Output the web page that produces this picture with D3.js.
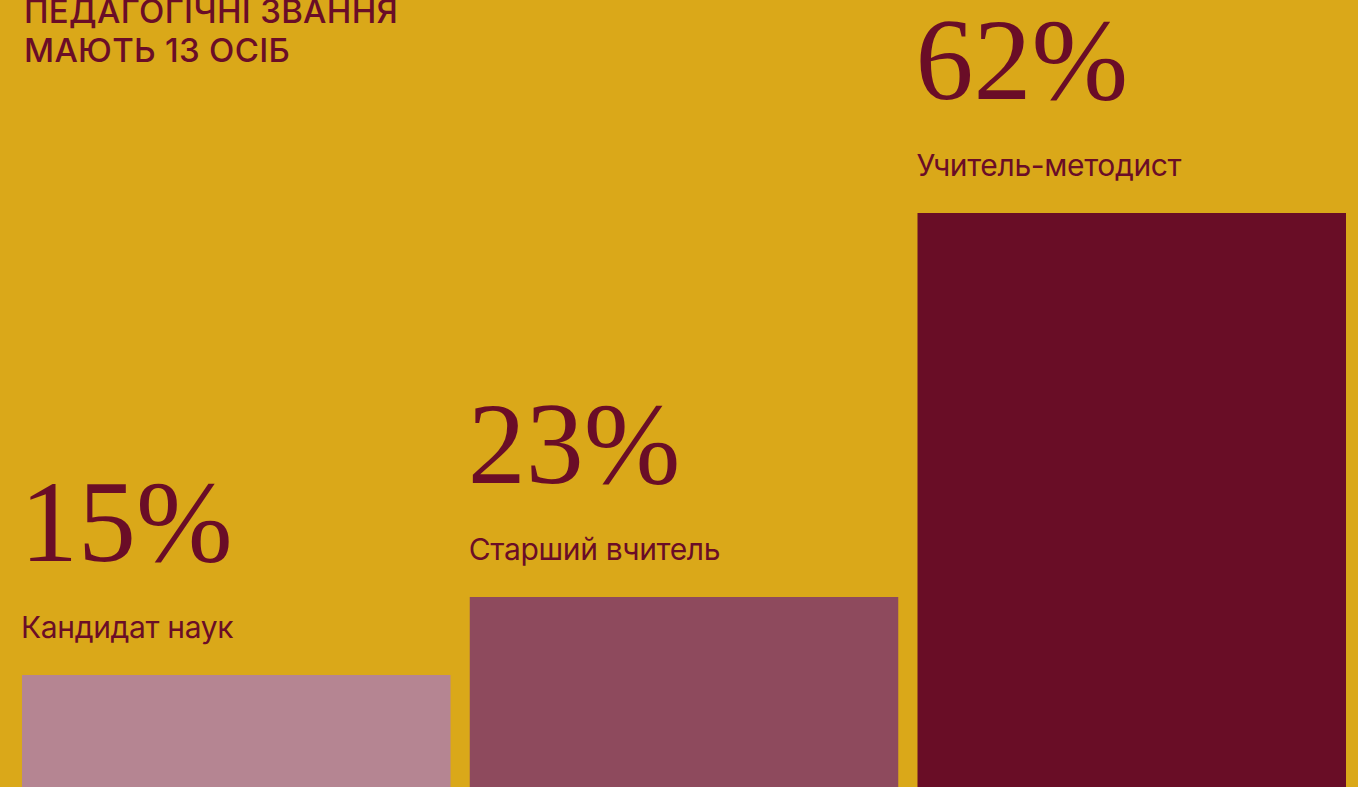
<!DOCTYPE html>
<html><head><meta charset="utf-8">
<script src="https://cdn.jsdelivr.net/npm/d3@7"></script>
<style>
html,body{margin:0;padding:0;background:#DAA819;overflow:hidden;}
svg{display:block;}
</style></head>
<body>
<svg id="chart" width="1358" height="787"></svg>
<script>
const categories = ["Кандидат наук", "Старший вчитель", "Учитель-методист"];
const values = [15, 23, 62];
const valueLabels = ["15%", "23%", "62%"];
const barColors = ["#B58592", "#8E4A5D", "#690D26"];
const titleLines = ["ПЕДАГОГІЧНІ ЗВАННЯ", "МАЮТЬ 13 ОСІБ"];

const W = 1358, H = 787;
const textColor = "#6A0D27";
const svg = d3.select("#chart");

svg.append("rect").attr("width", W).attr("height", H).attr("fill", "#DAA819");

const x = d3.scaleBand().domain(categories).range([22, 1346]).paddingInner(0.043);
const y = d3.scaleLinear().domain([0, 62]).range([823, 213]);

const g = svg.append("g");
const groups = g.selectAll("g.bar").data(categories).join("g").attr("class", "bar");

groups.append("rect")
  .attr("x", d => x(d))
  .attr("y", (d, i) => Math.round(y(values[i])))
  .attr("width", x.bandwidth())
  .attr("height", (d, i) => y(0) - y(values[i]) + 50)
  .attr("fill", (d, i) => barColors[i]);

groups.append("text")
  .attr("x", d => x(d) - 1)
  .attr("y", (d, i) => Math.round(y(values[i])) - 37)
  .attr("font-family", "Inter, 'Noto Sans', sans-serif")
  .attr("font-size", 30)
  .attr("letter-spacing", -0.35)
  .attr("fill", textColor)
  .text(d => d);

groups.append("text")
  .attr("x", d => x(d) - 2)
  .attr("y", (d, i) => Math.round(y(values[i])) - 114)
  .attr("font-family", "'Liberation Serif', serif")
  .attr("font-size", 116)
  .attr("fill", textColor)
  .text((d, i) => valueLabels[i]);

svg.append("g").selectAll("text").data(titleLines).join("text")
  .attr("x", 24)
  .attr("y", (d, i) => 23 + i * 38.5)
  .attr("font-family", "Inter, 'Noto Sans', sans-serif")
  .attr("font-size", 33)
  .attr("font-weight", 500)
  .attr("letter-spacing", 0.3)
  .attr("fill", textColor)
  .text(d => d);
</script>
</body></html>
